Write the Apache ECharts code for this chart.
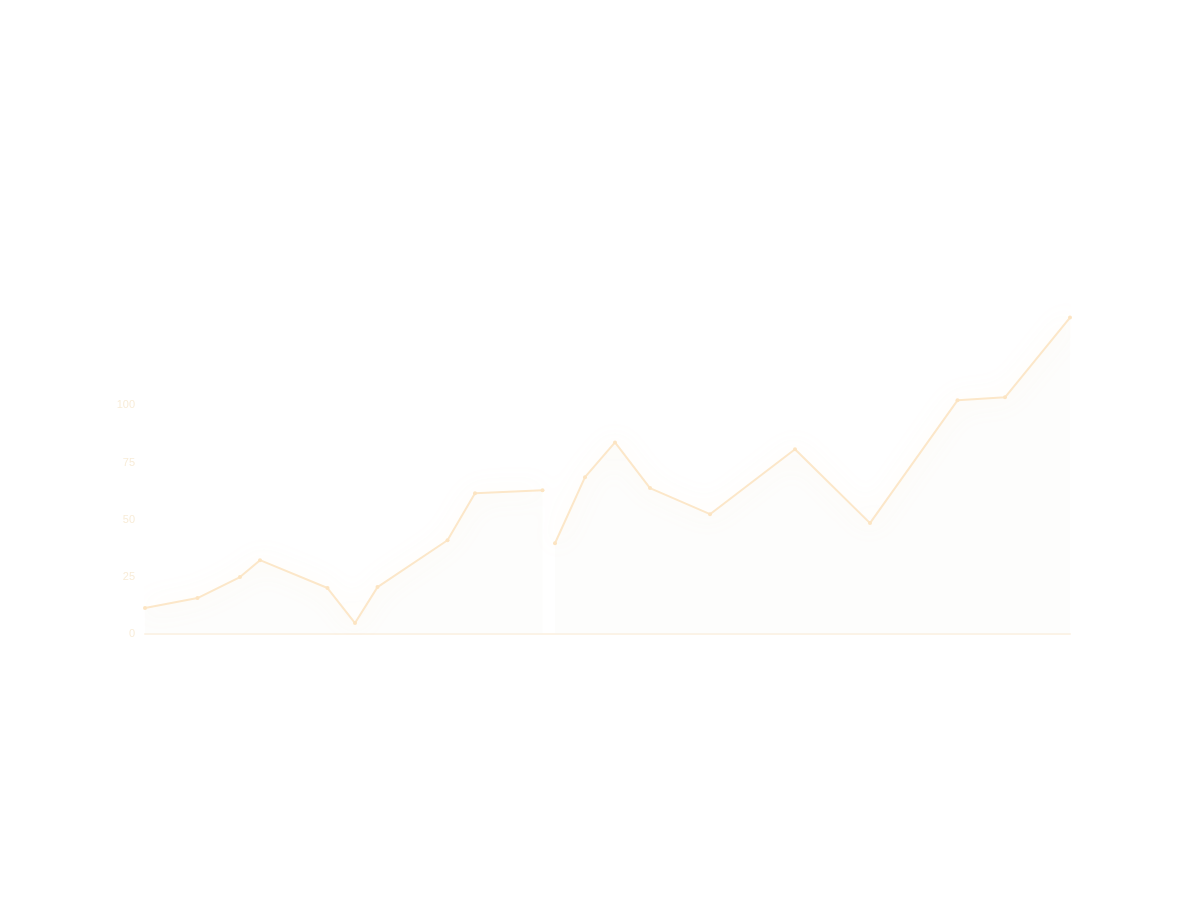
<!DOCTYPE html>
<html>
<head>
<meta charset="utf-8">
<script src="https://cdn.jsdelivr.net/npm/echarts@6/dist/echarts.min.js"></script>
<style>html,body{margin:0;padding:0;background:#fff}#c{width:1200px;height:900px}</style>
</head>
<body>
<div id="c"></div>
<script>
var xPositions = [0, 2.1, 3.8, 4.6, 7.3, 8.4, 9.3, 12.1, 13.2, 15.9, 16.2, 16.4, 17.6, 18.8, 20.2, 22.6, 26, 29, 32.5, 34.4, 37];
var values = [11.4, 15.7, 24.9, 32.3, 20.1, 4.8, 20.5, 41, 61.6, 62.9, null, 39.7, 68.6, 83.8, 63.8, 52.4, 80.8, 48.5, 102.2, 103.5, 138.4];
var yTicks = [0, 25, 50, 75, 100];

var data = xPositions.map(function (x, i) { return [x, values[i]]; });
var chart = echarts.init(document.getElementById('c'));
chart.setOption({
  backgroundColor: '#ffffff',
  animation: false,
  grid: { left: 145, right: 130, top: 291, bottom: 266 },
  xAxis: {
    type: 'value', min: 0, max: 37,
    axisLine: { show: true, lineStyle: { color: '#fcf3e6', width: 2 } },
    axisTick: { show: false }, axisLabel: { show: false }, splitLine: { show: false }
  },
  yAxis: {
    type: 'value', min: 0, max: 150, interval: 25,
    axisLine: { show: false }, axisTick: { show: false }, splitLine: { show: false },
    axisLabel: {
      color: '#f8ecd8', fontSize: 11, margin: 10,
      formatter: function (v) { return yTicks.indexOf(v) >= 0 ? String(v) : ''; }
    }
  },
  series: [{
    type: 'line',
    data: data,
    connectNulls: false,
    symbol: 'circle', symbolSize: 4,
    itemStyle: { color: '#fce4c2' },
    lineStyle: { color: '#fce7c9', width: 2, shadowColor: 'rgba(252,210,150,0.3)', shadowBlur: 26 },
    areaStyle: {
      color: 'rgba(247,246,243,0.3)',
      decal: { symbol: 'rect', symbolSize: 0.6, dashArrayX: [2, 2], dashArrayY: [2, 3], color: 'rgba(238,238,238,0.35)' }
    }
  }]
});
</script>
</body>
</html>
